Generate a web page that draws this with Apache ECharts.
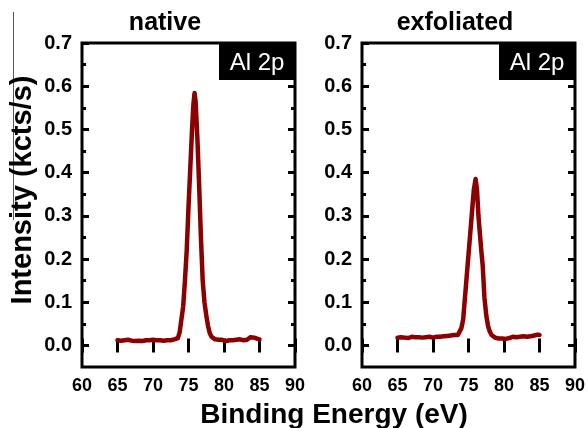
<!DOCTYPE html>
<html>
<head>
<meta charset="utf-8">
<script src="https://cdn.jsdelivr.net/npm/echarts@6/dist/echarts.min.js"></script>
<style>
html, body { margin: 0; padding: 0; background: #fff; }
#chart { width: 588px; height: 428px; }
</style>
</head>
<body>
<div id="chart"></div>
<script>
// Al 2p spectra
var energyNative = [65, 65.25, 65.5, 65.75, 66, 66.25, 66.5, 66.75, 67, 67.25, 67.5, 67.75, 68, 68.25, 68.5, 68.75,
  69, 69.25, 69.5, 69.75, 70, 70.25, 70.5, 70.75, 71, 71.25, 71.5, 71.75, 72, 72.25, 72.5, 72.75, 73, 73.25, 73.5,
  73.75, 74, 74.25, 74.5, 74.75, 75, 75.25, 75.5, 75.7, 75.85, 76, 76.25, 76.5, 76.75, 77, 77.25, 77.5, 77.75,
  78, 78.25, 78.5, 78.75, 79, 79.25, 79.5, 79.75, 80, 80.25, 80.5, 80.75, 81, 81.25, 81.5, 81.75, 82, 82.25,
  82.5, 82.75, 83, 83.25, 83.5, 83.75, 84, 84.25, 84.5, 84.75, 85];
var intensityNative = [0.012, 0.014, 0.011, 0.013, 0.012, 0.010, 0.013, 0.012, 0.011, 0.013, 0.010, 0.012, 0.011, 0.013, 0.010, 0.011,
  0.012, 0.010, 0.012, 0.011, 0.013, 0.011, 0.012, 0.014, 0.012, 0.013, 0.011, 0.013, 0.012, 0.014, 0.012, 0.013, 0.014, 0.015, 0.017,
  0.030, 0.060, 0.090, 0.150, 0.220, 0.320, 0.410, 0.500, 0.560, 0.584, 0.565, 0.480, 0.370, 0.250, 0.150, 0.100, 0.070, 0.045,
  0.028, 0.020, 0.016, 0.014, 0.012, 0.013, 0.011, 0.013, 0.012, 0.010, 0.013, 0.012, 0.014, 0.012, 0.015, 0.013, 0.012, 0.014,
  0.013, 0.012, 0.014, 0.013, 0.016, 0.019, 0.020, 0.018, 0.017, 0.015, 0.014];

var energyExfoliated = [65, 65.25, 65.5, 65.75, 66, 66.25, 66.5, 66.75, 67, 67.25, 67.5, 67.75, 68, 68.25, 68.5, 68.75,
  69, 69.25, 69.5, 69.75, 70, 70.25, 70.5, 70.75, 71, 71.25, 71.5, 71.75, 72, 72.25, 72.5, 72.75, 73, 73.25, 73.5,
  73.75, 74, 74.25, 74.5, 74.75, 75, 75.25, 75.5, 75.75, 76, 76.2, 76.4, 76.6, 76.8, 77, 77.25, 77.5, 77.75,
  78, 78.25, 78.5, 78.75, 79, 79.25, 79.5, 79.75, 80, 80.25, 80.5, 80.75, 81, 81.25, 81.5, 81.75, 82, 82.25,
  82.5, 82.75, 83, 83.25, 83.5, 83.75, 84, 84.25, 84.5, 84.75, 85];
var intensityExfoliated = [0.018, 0.021, 0.019, 0.020, 0.018, 0.020, 0.017, 0.019, 0.020, 0.018, 0.019, 0.017, 0.019, 0.020, 0.018, 0.017,
  0.019, 0.018, 0.020, 0.017, 0.018, 0.019, 0.020, 0.018, 0.020, 0.019, 0.021, 0.020, 0.022, 0.021, 0.023, 0.022, 0.024, 0.023, 0.024,
  0.028, 0.040, 0.060, 0.110, 0.160, 0.210, 0.260, 0.310, 0.360, 0.385, 0.360, 0.300, 0.260, 0.220, 0.185, 0.110, 0.070, 0.045,
  0.032, 0.024, 0.020, 0.018, 0.017, 0.016, 0.018, 0.016, 0.017, 0.015, 0.018, 0.017, 0.019, 0.020, 0.018, 0.019, 0.018, 0.020,
  0.019, 0.021, 0.019, 0.020, 0.022, 0.021, 0.020, 0.023, 0.022, 0.025, 0.024];

var panelTitles = ['native', 'exfoliated'];
var peakLabel = 'Al 2p';
var yMajorTicks = [0, 0.1, 0.2, 0.3, 0.4, 0.5, 0.6, 0.7];
var yMinorTicks = [0.05, 0.15, 0.25, 0.35, 0.45, 0.55, 0.65];
var xMin = 60, xMax = 90, xStep = 5;
var yMin = -0.05, yMax = 0.7;

var font = 'Liberation Sans, Arial, sans-serif';
var lineColor = '#8b0000';
var panels = [{left: 82, width: 213, titleX: 165}, {left: 362, width: 213, titleX: 455}];
var gridTop = 43, gridHeight = 324;

function pairs(xs, ys) {
  return xs.map(function(x, i){ return [x, ys[i]]; });
}

var grids = [], xAxes = [], yAxes = [], graphics = [];

panels.forEach(function(p, k){
  // main grid with frame
  grids.push({left: p.left, top: gridTop, width: p.width, height: gridHeight,
    show: true, borderColor: '#000', borderWidth: 3, backgroundColor: 'transparent'});
  ['bottom', 'top'].forEach(function(pos){
    xAxes.push({
      type: 'value', gridIndex: k, position: pos, min: xMin, max: xMax, interval: xStep,
      axisLine: {show: false}, splitLine: {show: false},
      axisTick: {show: true, inside: true, length: 7, lineStyle: {color: '#000', width: 3}},
      axisLabel: {show: pos === 'bottom', margin: 10, color: '#000', fontSize: 18, fontWeight: 'bold', fontFamily: font}
    });
  });
  ['left', 'right'].forEach(function(pos){
    yAxes.push({
      type: 'value', gridIndex: k, position: pos, min: yMin, max: yMax,
      axisLine: {show: false}, splitLine: {show: false},
      axisTick: {show: true, inside: true, length: 7, customValues: yMajorTicks, lineStyle: {color: '#000', width: 3}},
      axisLabel: {show: pos === 'left', customValues: yMajorTicks, margin: 10, color: '#000', fontSize: 20,
        fontWeight: 'bold', fontFamily: font, formatter: function(v){ return v.toFixed(1); }}
    });
  });
});

// overlay grids only for the short minor ticks
panels.forEach(function(p, k){
  var gi = grids.length;
  grids.push({left: p.left, top: gridTop, width: p.width, height: gridHeight});
  xAxes.push({type: 'value', gridIndex: gi, min: xMin, max: xMax, show: false});
  ['left', 'right'].forEach(function(pos){
    yAxes.push({
      type: 'value', gridIndex: gi, position: pos, min: yMin, max: yMax,
      axisLine: {show: false}, splitLine: {show: false}, axisLabel: {show: false},
      axisTick: {show: true, inside: true, length: 4, customValues: yMinorTicks, lineStyle: {color: '#000', width: 3}}
    });
  });
});

var series = [
  {type: 'line', xAxisIndex: 0, yAxisIndex: 0, data: pairs(energyNative, intensityNative)},
  {type: 'line', xAxisIndex: 2, yAxisIndex: 2, data: pairs(energyExfoliated, intensityExfoliated)}
].map(function(s){
  s.showSymbol = false;
  s.symbol = 'none';
  s.lineStyle = {color: lineColor, width: 4.5, join: 'round', cap: 'round'};
  s.z = 3;
  return s;
});

// panel titles and label boxes
panels.forEach(function(p, k){
  graphics.push({type: 'text', x: p.titleX, y: 23,
    style: {text: panelTitles[k], font: 'bold 25px ' + font, fill: '#000', align: 'center', verticalAlign: 'middle'}});
  graphics.push({type: 'rect', shape: {x: p.left + p.width - 76, y: gridTop - 1, width: 76, height: 38}, style: {fill: '#000'}, z: 10});
  graphics.push({type: 'text', x: p.left + p.width - 38, y: 63,
    style: {text: peakLabel, font: '24px ' + font, fill: '#fff', align: 'center', verticalAlign: 'middle'}, z: 11});
});

graphics.push({type: 'line', shape: {x1: 13.5, y1: 12, x2: 13.5, y2: 220}, style: {stroke: '#555', lineWidth: 1}, z: 1});
graphics.push({type: 'text', x: 23, y: 190, rotation: Math.PI / 2,
  style: {text: 'Intensity (kcts/s)', font: 'bold 29px ' + font, fill: '#000', align: 'center', verticalAlign: 'middle'}, z: 2});
graphics.push({type: 'text', x: 334, y: 415,
  style: {text: 'Binding Energy (eV)', font: 'bold 28px ' + font, fill: '#000', align: 'center', verticalAlign: 'middle'}, z: 2});

var chart = echarts.init(document.getElementById('chart'));
chart.setOption({
  animation: false,
  backgroundColor: '#fff',
  grid: grids,
  xAxis: xAxes,
  yAxis: yAxes,
  series: series,
  graphic: graphics
});
</script>
</body>
</html>
